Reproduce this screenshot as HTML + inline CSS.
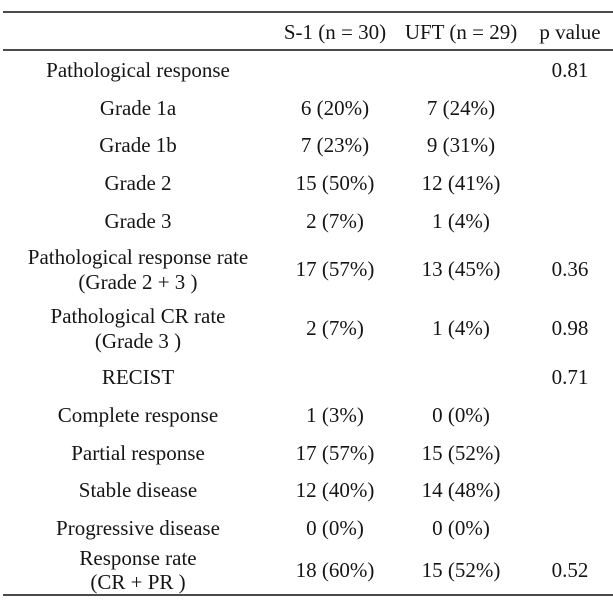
<!DOCTYPE html>
<html>
<head>
<meta charset="utf-8">
<style>
  html, body { margin:0; padding:0; background:#fff; }
  body { width:613px; height:610px; position:relative; overflow:hidden;
         font-family:"Liberation Serif", "Times New Roman", serif; font-size:21px; color:#151515; }
  .t { position:absolute; width:300px; text-align:center; line-height:24px; white-space:nowrap; }
  .c0 { left:-12px; }   /* center 138 */
  .c1 { left:185px; }   /* center 335 */
  .c2 { left:311px; }   /* center 461 */
  .c3 { left:420px; }   /* center 570 */
  .rule { position:absolute; left:3px; width:610px; height:2px; background:#4a4a4a; }
</style>
</head>
<body>
  <div class="rule" style="top:11px;"></div>
  <div class="rule" style="top:49px;"></div>
  <div class="rule" style="top:594px;"></div>

  <!-- header -->
  <div class="t c1" style="top:20px;">S-1 (n = 30)</div>
  <div class="t c2" style="top:20px;">UFT (n = 29)</div>
  <div class="t c3" style="top:20px;">p value</div>

  <!-- Pathological response -->
  <div class="t c0" style="top:58px;">Pathological response</div>
  <div class="t c3" style="top:58px;">0.81</div>

  <div class="t c0" style="top:96px;">Grade 1a</div>
  <div class="t c1" style="top:96px;">6 (20%)</div>
  <div class="t c2" style="top:96px;">7 (24%)</div>

  <div class="t c0" style="top:133px;">Grade 1b</div>
  <div class="t c1" style="top:133px;">7 (23%)</div>
  <div class="t c2" style="top:133px;">9 (31%)</div>

  <div class="t c0" style="top:171px;">Grade 2</div>
  <div class="t c1" style="top:171px;">15 (50%)</div>
  <div class="t c2" style="top:171px;">12 (41%)</div>

  <div class="t c0" style="top:209px;">Grade 3</div>
  <div class="t c1" style="top:209px;">2 (7%)</div>
  <div class="t c2" style="top:209px;">1 (4%)</div>

  <div class="t c0" style="top:245px;">Pathological response rate</div>
  <div class="t c0" style="top:270px;">(Grade 2 + 3 )</div>
  <div class="t c1" style="top:257px;">17 (57%)</div>
  <div class="t c2" style="top:257px;">13 (45%)</div>
  <div class="t c3" style="top:257px;">0.36</div>

  <div class="t c0" style="top:304px;">Pathological CR rate</div>
  <div class="t c0" style="top:329px;">(Grade 3 )</div>
  <div class="t c1" style="top:316px;">2 (7%)</div>
  <div class="t c2" style="top:316px;">1 (4%)</div>
  <div class="t c3" style="top:316px;">0.98</div>

  <div class="t c0" style="top:365px;">RECIST</div>
  <div class="t c3" style="top:365px;">0.71</div>

  <div class="t c0" style="top:403px;">Complete response</div>
  <div class="t c1" style="top:403px;">1 (3%)</div>
  <div class="t c2" style="top:403px;">0 (0%)</div>

  <div class="t c0" style="top:441px;">Partial response</div>
  <div class="t c1" style="top:441px;">17 (57%)</div>
  <div class="t c2" style="top:441px;">15 (52%)</div>

  <div class="t c0" style="top:478px;">Stable disease</div>
  <div class="t c1" style="top:478px;">12 (40%)</div>
  <div class="t c2" style="top:478px;">14 (48%)</div>

  <div class="t c0" style="top:516px;">Progressive disease</div>
  <div class="t c1" style="top:516px;">0 (0%)</div>
  <div class="t c2" style="top:516px;">0 (0%)</div>

  <div class="t c0" style="top:546px;">Response rate</div>
  <div class="t c0" style="top:570px;">(CR + PR )</div>
  <div class="t c1" style="top:558px;">18 (60%)</div>
  <div class="t c2" style="top:558px;">15 (52%)</div>
  <div class="t c3" style="top:558px;">0.52</div>
</body>
</html>
